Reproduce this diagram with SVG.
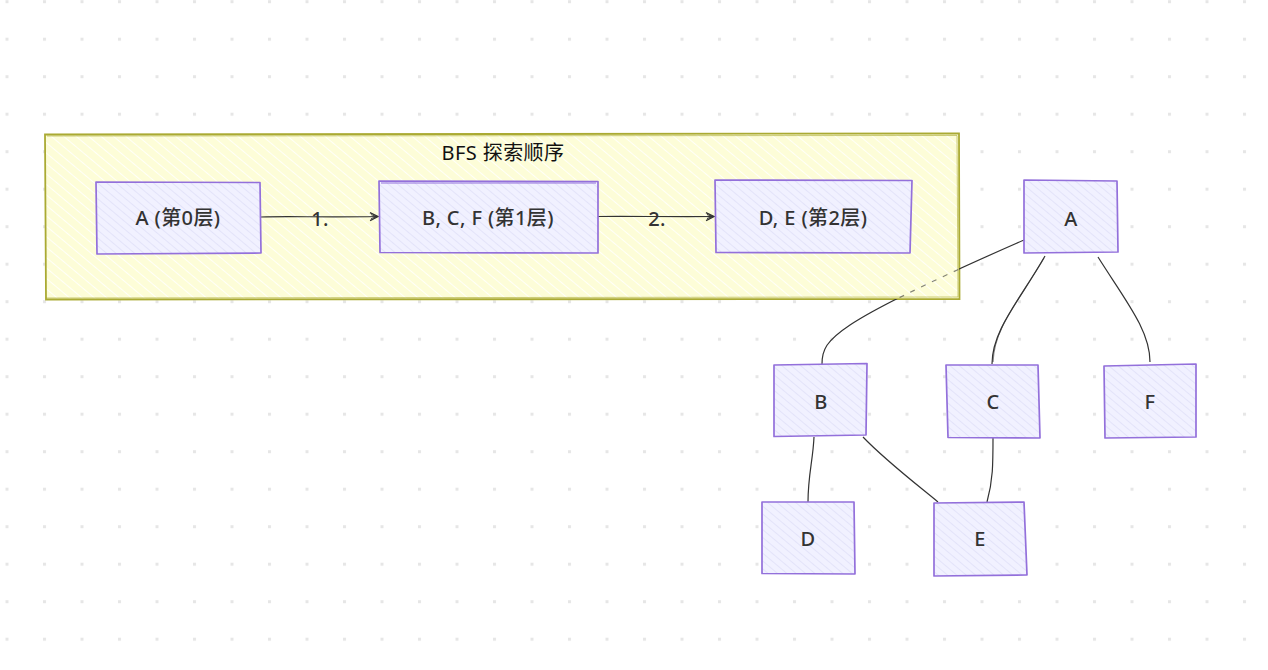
<svg xmlns="http://www.w3.org/2000/svg" width="1268" height="670" viewBox="0 0 1268 670">
<style>
.lbl{font-family:"Noto Sans","Noto Sans CJK SC",sans-serif;font-size:20px;font-weight:500;fill:#333;text-anchor:middle;dominant-baseline:central;letter-spacing:0.4px}
.nb{fill:url(#hN);stroke:#9370db;stroke-width:1.7;stroke-linejoin:round}
.edge{fill:none;stroke:#333;stroke-width:1.2}
</style>
<defs>
<pattern id="dots" width="37.5" height="37.5" patternUnits="userSpaceOnUse" x="5.5" y="0.2">
<rect x="0" y="0" width="3" height="3" fill="#e6e6e6"/>
</pattern>
<pattern id="hN" width="6" height="6" patternUnits="userSpaceOnUse" patternTransform="rotate(-50)">
<rect width="6" height="6" fill="#f1f1ff"/>
<line x1="0" y1="0" x2="0" y2="6" stroke="#dcdcf6" stroke-width="1.3"/>
</pattern>
<pattern id="hC" width="8" height="8" patternUnits="userSpaceOnUse" patternTransform="rotate(-50)">
<rect width="8" height="8" fill="#fdfdd8"/>
<line x1="0" y1="0" x2="0" y2="8" stroke="#ffffff" stroke-width="2" stroke-opacity="0.85"/>
</pattern>
<marker id="arr" viewBox="0 0 10 10" refX="9" refY="5" markerWidth="10" markerHeight="10" markerUnits="userSpaceOnUse" orient="auto">
<path d="M1,1 L9,5 L1,9" fill="none" stroke="#333" stroke-width="1.3"/>
<path d="M2,3 L8,5 L2,7" fill="none" stroke="#333" stroke-width="1"/>
</marker>
<clipPath id="outside"><rect x="959" y="0" width="309" height="670"/><rect x="0" y="299" width="1268" height="371"/></clipPath>
<clipPath id="inside"><rect x="45" y="134" width="914" height="165"/></clipPath>
</defs>
<rect width="1268" height="670" fill="#ffffff"/>
<rect width="1268" height="670" fill="url(#dots)"/>

<g id="cluster-bfs">
<path d="M45,134.5 L959,133.5 L959.5,299 L46,299.5 Z" fill="url(#hC)" stroke="#aaaa33" stroke-width="1.8"/>
<path d="M47,136 L957,135.5 L958,297 L45.5,298" fill="none" stroke="#aaaa33" stroke-width="1" opacity="0.6"/>
<text class="lbl" x="503" y="152" style="fill:#111;font-weight:400">BFS 探索顺序</text>
</g>

<g id="connectors">
<path class="edge" d="M261,217 C290,216 320,217.5 378,216.5" marker-end="url(#arr)"/>
<path class="edge" d="M598,216.5 C630,216 670,217 714,216.5" marker-end="url(#arr)"/>
<path class="edge" clip-path="url(#outside)" d="M1024,240 C960,268 880,305 850,325 C826,341 822,350 822,364"/>
<path class="edge" clip-path="url(#inside)" d="M1024,240 C960,268 880,305 850,325 C826,341 822,350 822,364" stroke-dasharray="5,7" stroke-opacity="0.6"/>
<path class="edge" d="M1045,256 C1020,300 992,330 992,364"/>
<path class="edge" d="M1044,258 C1018,302 994,328 993,362" stroke-opacity="0.6"/>
<path class="edge" d="M1098,257 C1125,300 1150,330 1150,362"/>
<path class="edge" d="M814,437 C813,460 808,475 808,502"/>
<path class="edge" d="M863,437 C885,460 915,483 938,502"/>
<path class="edge" d="M993,437 C993,465 993,480 987,502"/>
<text class="lbl" x="320" y="218">1.</text>
<text class="lbl" x="657" y="218">2.</text>
</g>

<g id="node-L0">
<path class="nb" d="M96,182 L260,182.5 L261,253 L97,254 Z"/>
<text class="lbl" x="178" y="217">A (第0层)</text>
</g>
<g id="node-L1">
<path class="nb" d="M379,181 L598,181.5 L598,253 L380,252.5 Z"/>
<path d="M381,183 L596,183" fill="none" stroke="#9370db" stroke-width="1"/>
<text class="lbl" x="488" y="217">B, C, F (第1层)</text>
</g>
<g id="node-L2">
<path class="nb" d="M715,180 L912,180.5 L910,253 L716,252.5 Z"/>
<text class="lbl" x="813" y="217">D, E (第2层)</text>
</g>

<g id="node-A">
<path class="nb" d="M1024,180 L1117,181 L1118,252 L1024,253 Z"/>
<text class="lbl" x="1071" y="218">A</text>
</g>
<g id="node-B">
<path class="nb" d="M774,365 L867,363.5 L866,435 L774,436.5 Z"/>
<text class="lbl" x="821" y="401">B</text>
</g>
<g id="node-C">
<path class="nb" d="M946,365 L1038,365 L1040,438 L948,437.5 Z"/>
<text class="lbl" x="993" y="401">C</text>
</g>
<g id="node-F">
<path class="nb" d="M1104,366 L1196,364 L1196,437 L1105,438 Z"/>
<text class="lbl" x="1150" y="401">F</text>
</g>
<g id="node-D">
<path class="nb" d="M762,502 L854,502 L855,574 L762,573.5 Z"/>
<text class="lbl" x="808" y="538">D</text>
</g>
<g id="node-E">
<path class="nb" d="M934,503 L1024,502 L1027,575 L934,576 Z"/>
<text class="lbl" x="980" y="538">E</text>
</g>
</svg>
